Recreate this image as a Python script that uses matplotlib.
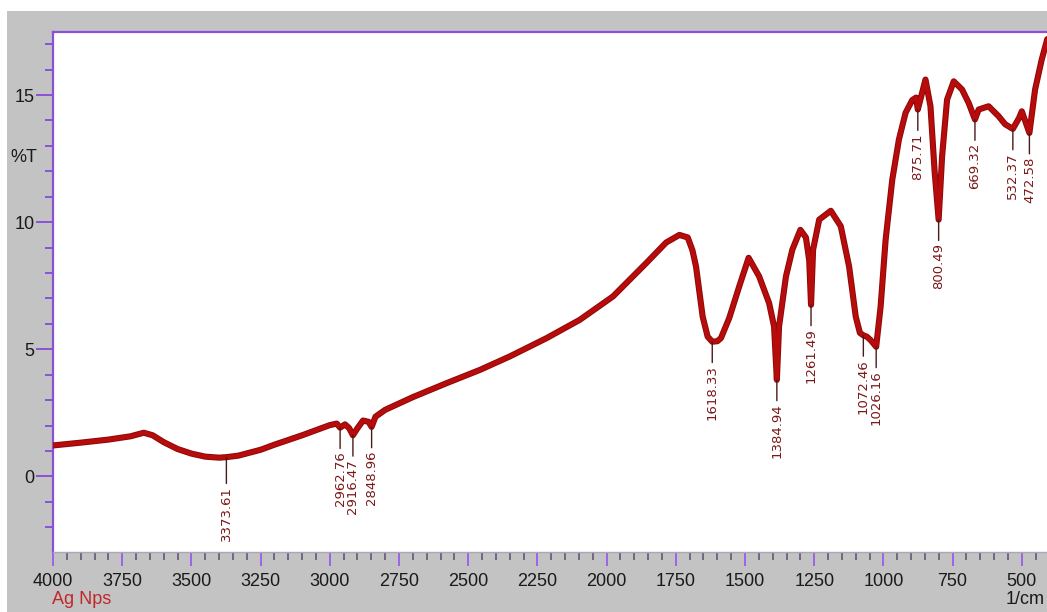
import matplotlib
matplotlib.use("Agg")
import matplotlib.pyplot as plt
from matplotlib.patches import Rectangle
from matplotlib.ticker import MultipleLocator

# FTIR spectrum of Ag nanoparticles: wavenumber (1/cm) vs %T
wavenumber = [
    4000, 3900, 3800, 3720, 3672, 3640, 3600, 3550, 3500, 3450, 3400, 3373.61,
    3330, 3250, 3200, 3100, 3000, 2975, 2962.76, 2945, 2930, 2916.47, 2900,
    2880, 2860, 2848.96, 2835, 2800, 2700, 2578, 2458, 2350, 2217, 2097, 1977,
    1857, 1785, 1737, 1707, 1690, 1677, 1653, 1635, 1618.33, 1600, 1587, 1557,
    1521, 1487, 1449, 1413, 1395, 1384.94, 1377, 1352, 1329, 1300, 1280, 1268,
    1261.49, 1254, 1232, 1190, 1154, 1124, 1100, 1085, 1072.46, 1060, 1045,
    1026.16, 1010, 992, 968, 944, 920, 896, 882, 875.71, 848, 830, 815, 800.49,
    788, 770, 746, 716, 692, 669.32, 656, 620, 584, 560, 532.37, 510, 500,
    472.58, 452, 428, 408,
]
transmittance = [
    1.22, 1.33, 1.45, 1.58, 1.72, 1.62, 1.35, 1.08, 0.90, 0.78, 0.74, 0.76,
    0.82, 1.05, 1.25, 1.62, 2.02, 2.08, 1.92, 2.05, 1.90, 1.62, 1.90,
    2.20, 2.15, 1.95, 2.35, 2.62, 3.12, 3.67, 4.19, 4.72, 5.44, 6.16, 7.08,
    8.39, 9.20, 9.50, 9.40, 8.90, 8.26, 6.29, 5.50, 5.30, 5.32, 5.44, 6.23,
    7.47, 8.60, 7.87, 6.82, 5.90, 3.80, 5.90, 7.87, 8.92, 9.70, 9.40, 8.50,
    6.75, 8.92, 10.10, 10.45, 9.84, 8.26, 6.29, 5.65, 5.55, 5.50, 5.35,
    5.10, 6.69, 9.31, 11.67, 13.25, 14.30, 14.80, 14.90, 14.43, 15.61, 14.56, 12.0, 10.10,
    12.59, 14.82, 15.54, 15.22, 14.69, 14.04, 14.43, 14.56, 14.17, 13.85, 13.67, 14.10, 14.36,
    13.51, 15.22, 16.40, 17.20,
]

# labelled band positions
peak_labels = [
    "3373.61", "2962.76", "2916.47", "2848.96", "1618.33", "1384.94",
    "1261.49", "1072.46", "1026.16", "875.71", "800.49", "669.32",
    "532.37", "472.58",
]

x_ticks = [4000, 3750, 3500, 3250, 3000, 2750, 2500, 2250, 2000, 1750, 1500, 1250, 1000, 750, 500]
y_ticks = [0, 5, 10, 15]

W, H = 1047, 612
fig = plt.figure(figsize=(W / 100, H / 100), dpi=100, facecolor="white")

# grey window background
fig.patches.append(Rectangle((7 / W, 0), 1 - 7 / W, 1 - 11 / H,
                             transform=fig.transFigure, facecolor="#c3c3c3",
                             edgecolor="none", zorder=-10))

ax = fig.add_axes([53 / W, 1 - 552 / H, 1 - 53 / W, (552 - 32) / H])
ax.set_facecolor("white")

line_col = "#b80c0c"
ax.plot(wavenumber, transmittance, color="#8e0808", lw=4.4, solid_capstyle="round",
        solid_joinstyle="round", zorder=3)
ax.plot(wavenumber, transmittance, color=line_col, lw=3.0, solid_capstyle="round",
        solid_joinstyle="round", zorder=4)

ax.set_xlim(4000, 409)
ax.set_ylim(-2.97, 17.48)

purple = "#8a50d8"
for side in ("left", "top"):
    ax.spines[side].set_color(purple)
    ax.spines[side].set_linewidth(1.6)
ax.spines["right"].set_visible(False)
ax.spines["bottom"].set_color("#a8a8b8")
ax.spines["bottom"].set_linewidth(1.0)

label_font = ["Liberation Sans Narrow", "Liberation Sans", "DejaVu Sans"]

ax.set_xticks(x_ticks)
ax.set_xticklabels([str(v) for v in x_ticks])
ax.xaxis.set_minor_locator(MultipleLocator(50))
ax.set_yticks(y_ticks)
ax.set_yticklabels([str(v) for v in y_ticks])
ax.yaxis.set_minor_locator(MultipleLocator(1))

ax.tick_params(axis="x", which="major", direction="out", length=10, width=1.4,
               color="#9a66e6", pad=5, labelsize=13, labelcolor="#1a1a1a")
ax.tick_params(axis="x", which="minor", direction="out", length=5.5, width=1.1,
               color="#5a5070")
ax.tick_params(axis="y", which="major", direction="out", length=12, width=1.4,
               color=purple, pad=1.5, labelsize=13, labelcolor="#1a1a1a")
ax.tick_params(axis="y", which="minor", direction="out", length=6, width=1.4,
               color=purple)
for lab in ax.get_xticklabels() + ax.get_yticklabels():
    lab.set_family(label_font)

# peak annotations: short leader line then vertical value text
lookup = dict(zip(wavenumber, transmittance))
for txt in peak_labels:
    wn = float(txt)
    t = lookup[wn]
    drop = -21 if txt == "3373.61" else -17
    ax.annotate(txt, xy=(wn, t), xytext=(0, drop), textcoords="offset points",
                rotation=90, ha="center", va="top", fontsize=9.5,
                color="#7a1818", family="DejaVu Sans",
                arrowprops=dict(arrowstyle="-", color="#4a1a1a", lw=1.0,
                                shrinkA=0, shrinkB=0), zorder=5)

fig.text(10 / W, 1 - 157 / H, "%T", ha="left", va="center", fontsize=13,
         family=label_font, color="#1a1a1a")
fig.text(52 / W, 1 - 600 / H, "Ag Nps", ha="left", va="center", fontsize=13,
         family=label_font, color="#c02828")
fig.text(1045 / W, 1 - 600 / H, "1/cm", ha="right", va="center", fontsize=13,
         family=label_font, color="#1a1a1a")

fig.savefig("out.png", dpi=100, facecolor=fig.get_facecolor())
